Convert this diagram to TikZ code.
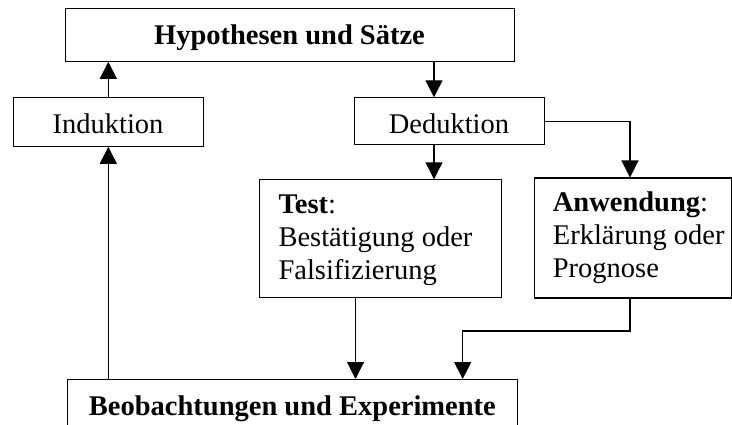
\documentclass[tikz,border=0pt]{standalone}
\usepackage{fontspec}
\setmainfont{Liberation Serif}
\usetikzlibrary{arrows.meta}
\begin{document}
\begin{tikzpicture}[x=1pt,y=-1pt,
  box/.style={draw,line width=1.1pt,anchor=north west,inner sep=0pt},
  lbl/.style={inner sep=0pt,font=\fontsize{28.5}{33}\selectfont},
  arr/.style={line width=1.1pt,-{Triangle[length=17pt,width=17pt]}}]
\useasboundingbox (0,0) rectangle (732,425);
\clip (0,0) rectangle (732,425);
% boxes
\node[box,minimum width=449pt,minimum height=53pt] (top) at (65,7.7) {};
\node[box,minimum width=190.6pt,minimum height=48.4pt] (ind) at (12.7,97.3) {};
\node[box,minimum width=190.5pt,minimum height=47pt] (ded) at (353.5,97.3) {};
\node[box,minimum width=242pt,minimum height=118pt] (test) at (259.3,179.3) {};
\node[box,minimum width=196.6pt,minimum height=120pt] (anw) at (534.3,177.5) {};
\node[box,minimum width=450pt,minimum height=70pt] (obs) at (67.3,379) {};
% texts
\node[lbl,anchor=base] (ttop) at (289.5,45) {\textbf{Hypothesen und Sätze}};
\node[lbl,anchor=base] (tind) at (108,133.3) {Induktion};
\node[lbl,anchor=base] (tded) at (449,133.3) {Deduktion};
\node[lbl,anchor=base west] (ttest) at (278.3,214) {\begin{tabular}[t]{@{}l@{}}\textbf{Test}:\\Bestätigung oder\\Falsifizierung\end{tabular}};
\node[lbl,anchor=base west] (tanw) at (552.7,211.7) {\begin{tabular}[t]{@{}l@{}}\textbf{Anwendung}:\\Erklärung oder\\Prognose\end{tabular}};
\node[lbl,anchor=base] (tobs) at (292.4,415) {\textbf{Beobachtungen und Experimente}};
% helper coordinates
\coordinate (xa) at (108.3,0);
\coordinate (xb) at (434,0);
\coordinate (xc) at (630,0);
\coordinate (xd) at (355.5,0);
\coordinate (xf) at (462.7,0);
\coordinate (ya) at (0,331);
% connectors
\draw[arr] (ind.north -| xa) -- (top.south -| xa);
\draw[arr] (obs.north -| xa) -- (ind.south -| xa);
\draw[arr] (top.south -| xb) -- (ded.north -| xb);
\draw[arr] (ded.south -| xb) -- (test.north -| xb);
\draw[arr] (ded.east) -| (anw.north -| xc);
\draw[arr] (test.south -| xd) -- (obs.north -| xd);
\draw[arr] (anw.south -| xc) -- (xc |- ya) -| (obs.north -| xf);
\end{tikzpicture}
\end{document}
